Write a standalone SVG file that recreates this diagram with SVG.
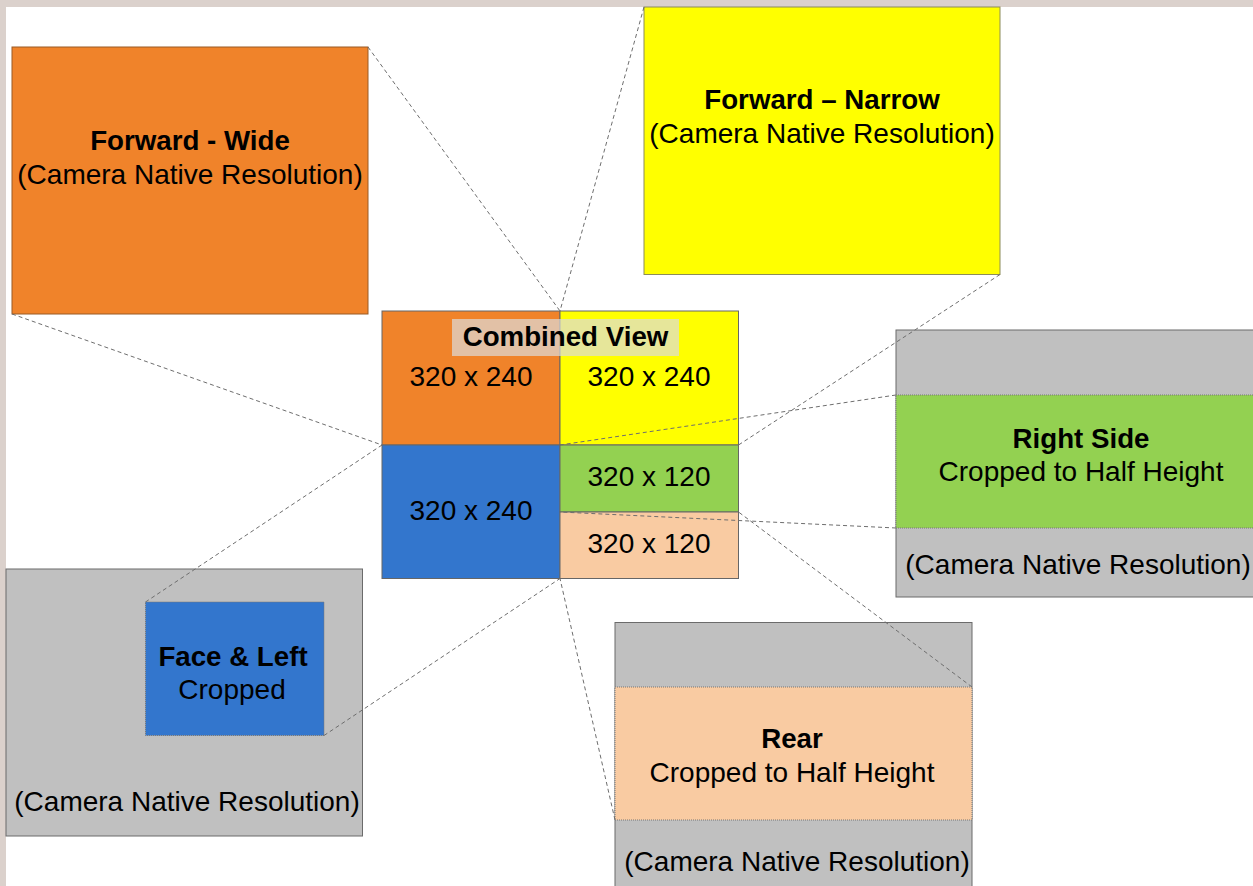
<svg xmlns="http://www.w3.org/2000/svg" width="1253" height="886" viewBox="0 0 1253 886">
<style>
text{font-family:"Liberation Sans",Arial,sans-serif;font-size:28px;fill:#000;text-anchor:middle}
.b{font-weight:bold;font-size:27.7px}
.box{stroke:#6b6b6b;stroke-width:1}
.crop{stroke:#777;stroke-width:1;stroke-dasharray:1 1}
.cell{stroke:#666;stroke-width:1}
.conn line{stroke:#6e6e6e;stroke-width:1;stroke-dasharray:4 3;fill:none}
</style>
<rect x="0" y="0" width="1253" height="886" fill="#dbd1cc"/>
<rect x="6" y="7" width="1247" height="879" fill="#ffffff"/>

<g id="forward-wide">
<rect x="12" y="47" width="356" height="267" fill="#f0832a" stroke="#9a5a25"/>
<text class="b" x="190" y="150">Forward - Wide</text>
<text x="190" y="184">(Camera Native Resolution)</text>
</g>

<g id="forward-narrow">
<rect x="644" y="7" width="356" height="267.5" fill="#ffff00" stroke="#8c8c5a"/>
<text class="b" x="822" y="109">Forward – Narrow</text>
<text x="822" y="143">(Camera Native Resolution)</text>
</g>

<g id="right-side">
<rect x="896" y="330" width="370" height="267" fill="#c0c0c0" class="box"/>
<rect x="896" y="395" width="370" height="133" fill="#93d151" class="crop"/>
<text class="b" x="1081" y="448">Right Side</text>
<text x="1081" y="481">Cropped to Half Height</text>
<text x="1078" y="574">(Camera Native Resolution)</text>
</g>

<g id="face-left">
<rect x="6" y="569" width="356.5" height="267" fill="#c0c0c0" class="box"/>
<rect x="145.5" y="602" width="178.5" height="133.5" fill="#3376cd" class="crop"/>
<text class="b" x="233" y="666">Face &amp; Left</text>
<text x="232" y="699">Cropped</text>
<text x="187" y="811">(Camera Native Resolution)</text>
</g>

<g id="rear">
<rect x="615" y="622.5" width="357" height="280" fill="#c0c0c0" class="box"/>
<rect x="615" y="687" width="357" height="133" fill="#f9cba2" class="crop"/>
<text class="b" x="792" y="748">Rear</text>
<text x="792" y="782">Cropped to Half Height</text>
<text x="797" y="871">(Camera Native Resolution)</text>
</g>

<g id="combined-view">
<rect x="382" y="311" width="178" height="134" fill="#f0832a" class="cell"/>
<rect x="560" y="311" width="178.5" height="134" fill="#ffff00" class="cell"/>
<rect x="382" y="445" width="178" height="133.5" fill="#3376cd" class="cell"/>
<rect x="560" y="445" width="178.5" height="67" fill="#93d151" class="cell"/>
<rect x="560" y="512" width="178.5" height="66.5" fill="#f9cba2" class="cell"/>
<rect x="452" y="319" width="227" height="37" fill="#dcdcdc" fill-opacity="0.7"/>
<text class="b" x="565.5" y="346">Combined View</text>
<text x="471" y="386">320 x 240</text>
<text x="649" y="386">320 x 240</text>
<text x="471" y="520">320 x 240</text>
<text x="649" y="486">320 x 120</text>
<text x="649" y="553">320 x 120</text>
</g>

<g id="connectors" class="conn">
<line x1="368" y1="47" x2="560" y2="311"/>
<line x1="12" y1="314" x2="382" y2="445"/>
<line x1="644" y1="7" x2="560" y2="311"/>
<line x1="1000" y1="274.5" x2="738.5" y2="445"/>
<line x1="896" y1="395" x2="560" y2="445"/>
<line x1="896" y1="528" x2="560" y2="512"/>
<line x1="972" y1="687" x2="738.5" y2="512"/>
<line x1="615" y1="820" x2="560" y2="578.5"/>
<line x1="145.5" y1="602" x2="382" y2="445"/>
<line x1="324" y1="735.5" x2="560" y2="578.5"/>
</g>
</svg>
